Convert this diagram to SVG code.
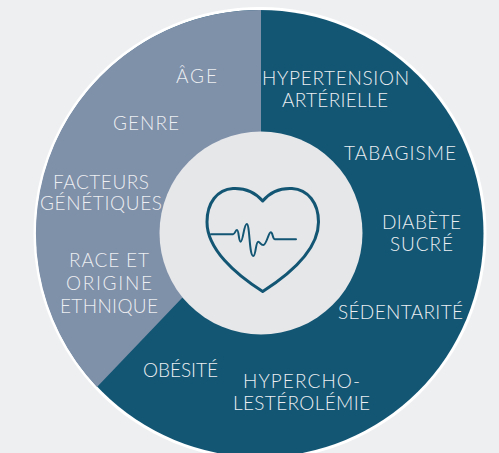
<svg xmlns="http://www.w3.org/2000/svg" width="499" height="453" viewBox="0 0 499 453">
<style>
.t{font-family:"Lato","Liberation Sans",sans-serif;font-weight:300;font-size:19px;fill:#eceef1}
.h{fill:none;stroke:#125674;stroke-linejoin:round;stroke-linecap:round}
</style>
<rect width="499" height="453" fill="#eeeff1"/>
<g id="ring">
<circle cx="260" cy="233.500" r="226.500" fill="#fff"/>
<circle cx="260" cy="233.500" r="223.500" fill="#125674"/>
<path d="M261 10A223.500 223.500 0 0 0 97 387L182 298L261 233Z" fill="#7f90a9"/>
</g>
<g id="center">
<circle cx="261" cy="233" r="101.500" fill="#e6e7e9"/>
<path class="h" stroke-width="3" d="M262.700 201C254 191 243 188 233 188.500C217 189.500 207 203 207 222C207 249 235 274 262.700 291.500C290 274 318.500 249 318.500 222C318.500 203 308 189.500 292 188.500C282 188 271 191 262.700 201Z"/>
<path class="h" stroke-width="2" d="M211 234.300H233C235 234 235.500 230 237 230C239 230 238.500 241.700 240.700 241.700C243 241.700 244 224 246.700 224C250 224 249 256 253.300 256C256 256 255.500 241.700 258.300 241.700C260 241.700 260.500 245 263.300 245C266.500 245 268.500 232.300 270.700 232.300C273 232.300 272.500 239.300 275 239.300H296"/>
</g>
<g id="labels">
<text class="t" x="176" y="83" textLength="41">ÂGE</text>
<text class="t" x="113" y="130" textLength="66">GENRE</text>
<text class="t" x="53" y="189" textLength="96">FACTEURS</text>
<text class="t" x="40" y="210" textLength="122">GÉNÉTIQUES</text>
<text class="t" x="69" y="267" textLength="80">RACE ET</text>
<text class="t" x="66" y="290" textLength="86">ORIGINE</text>
<text class="t" x="60" y="313" textLength="98">ETHNIQUE</text>
<text class="t" x="262" y="85" textLength="147">HYPERTENSION</text>
<text class="t" x="282" y="107" textLength="106">ARTÉRIELLE</text>
<text class="t" x="344" y="160" textLength="112">TABAGISME</text>
<text class="t" x="382" y="229" textLength="79">DIABÈTE</text>
<text class="t" x="390" y="251" textLength="63">SUCRÉ</text>
<text class="t" x="338" y="319" textLength="125">SÉDENTARITÉ</text>
<text class="t" x="143" y="377" textLength="75">OBÉSITÉ</text>
<text class="t" x="243" y="388" textLength="117">HYPERCHO-</text>
<text class="t" x="233" y="410" textLength="137">LESTÉROLÉMIE</text>
</g>
</svg>
